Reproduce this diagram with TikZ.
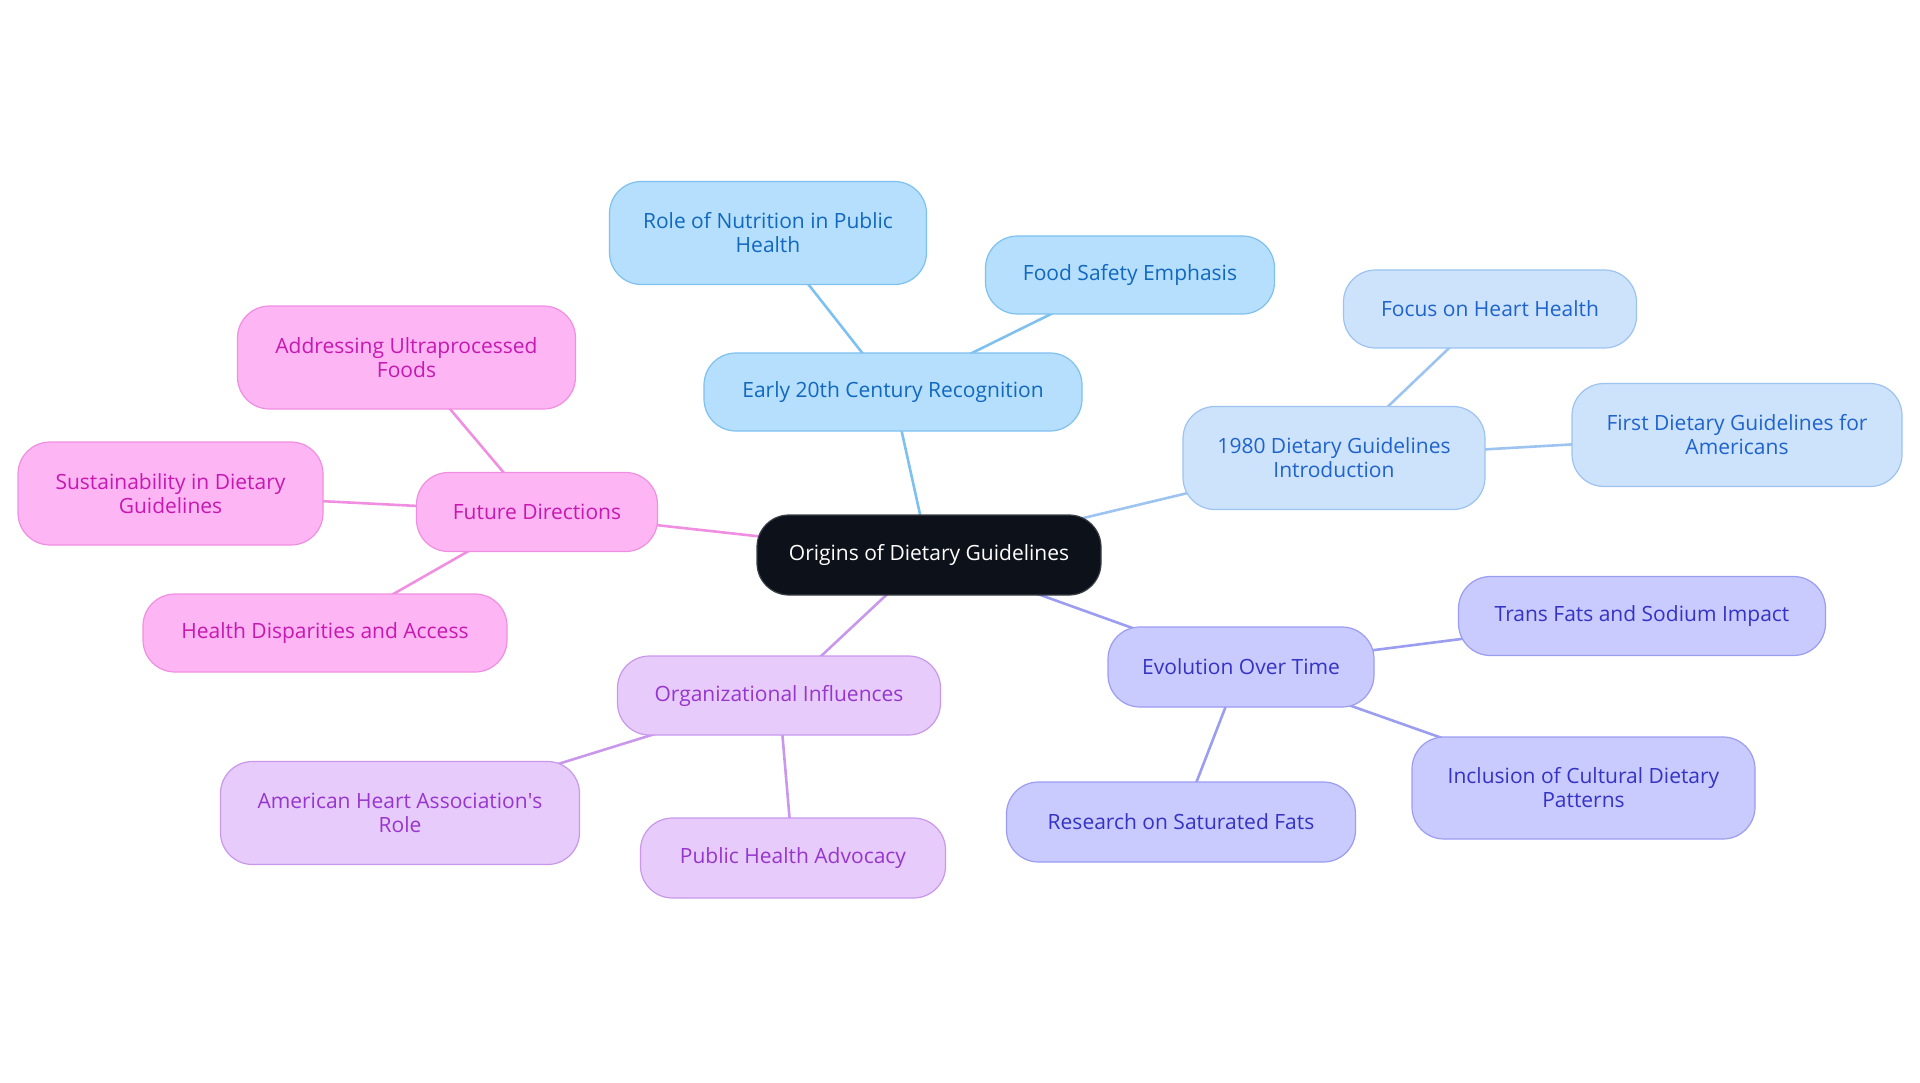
\documentclass[tikz,border=0pt]{standalone}
\usepackage{fontspec}
\setmainfont{Open Sans}
\usetikzlibrary{backgrounds}
\definecolor{cfill}{HTML}{0D121A}\definecolor{cdraw}{HTML}{3A3F47}
\definecolor{afill}{HTML}{B5DFFC}\definecolor{adraw}{HTML}{7EC1F0}\definecolor{atext}{HTML}{1168BE}
\definecolor{bfill}{HTML}{CDE3FB}\definecolor{bdraw}{HTML}{9DC3F1}\definecolor{btext}{HTML}{1F63CC}
\definecolor{efill}{HTML}{C9CAFD}\definecolor{edraw}{HTML}{9B9DF1}\definecolor{etext}{HTML}{3533C4}
\definecolor{ofill}{HTML}{E7CBFB}\definecolor{odraw}{HTML}{C998EC}\definecolor{otext}{HTML}{9736CD}
\definecolor{ffill}{HTML}{FDB5F3}\definecolor{fdraw}{HTML}{F08FE1}\definecolor{ftext}{HTML}{C718B1}
\tikzset{
  box/.style={rounded corners=32pt, line width=1.2pt, align=center, inner sep=0pt,
    font=\fontsize{21}{24}\selectfont},
  bx/.style 2 args={box, minimum width=#1pt, minimum height=#2pt},
  abox/.style={fill=afill, draw=adraw, text=atext},
  bbox/.style={fill=bfill, draw=bdraw, text=btext},
  ebox/.style={fill=efill, draw=edraw, text=etext},
  obox/.style={fill=ofill, draw=odraw, text=otext},
  fbox/.style={fill=ffill, draw=fdraw, text=ftext},
  link/.style={line width=2.6pt},
}
\begin{document}
\begin{tikzpicture}[x=1pt,y=-1pt]
\useasboundingbox (0,0) rectangle (1920,1083);
\node[bx={344}{80}, fill=cfill, draw=cdraw, text=white] (c) at (929,555) {Origins of Dietary Guidelines};
\node[bx={378}{78}, abox] (early) at (893,392) {Early 20th Century Recognition};
\node[bx={317}{103}, abox] (role) at (768,233) {Role of Nutrition in Public\\Health};
\node[bx={289}{78}, abox] (food) at (1130,275) {Food Safety Emphasis};
\node[bx={302}{103}, bbox] (g1980) at (1334,458) {1980 Dietary Guidelines\\Introduction};
\node[bx={293}{78}, bbox] (heart) at (1490,309) {Focus on Heart Health};
\node[bx={330}{103}, bbox] (first) at (1737,435) {First Dietary Guidelines for\\Americans};
\node[bx={266}{80}, ebox] (evo) at (1241,667) {Evolution Over Time};
\node[bx={367}{79}, ebox] (trans) at (1642,616) {Trans Fats and Sodium Impact};
\node[bx={343}{102}, ebox] (incl) at (1583.5,788) {Inclusion of Cultural Dietary\\Patterns};
\node[bx={349}{80}, ebox] (res) at (1181,822) {Research on Saturated Fats};
\node[bx={323}{79}, obox] (org) at (779,695.5) {Organizational Influences};
\node[bx={359}{103}, obox] (aha) at (400,813) {American Heart Association\textquotesingle s\\Role};
\node[bx={305}{80}, obox] (pha) at (793,858) {Public Health Advocacy};
\node[bx={241}{79}, fbox] (fut) at (537,512) {Future Directions};
\node[bx={338}{103}, fbox] (ultra) at (406.5,357.5) {Addressing Ultraprocessed\\Foods};
\node[bx={305}{103}, fbox] (sust) at (170.5,493.5) {Sustainability in Dietary\\Guidelines};
\node[bx={364}{78}, fbox] (disp) at (325,633) {Health Disparities and Access};
\begin{scope}[on background layer]
\draw[link, draw=adraw] (c.center) -- (early.center);
\draw[link, draw=adraw] (early.center) -- (role.center);
\draw[link, draw=adraw] (early.center) -- (food.center);
\draw[link, draw=bdraw] (c.center) -- (g1980.center);
\draw[link, draw=bdraw] (g1980.center) -- (heart.center);
\draw[link, draw=bdraw] (g1980.center) -- (first.center);
\draw[link, draw=edraw] (c.center) -- (evo.center);
\draw[link, draw=edraw] (evo.center) -- (trans.center);
\draw[link, draw=edraw] (evo.center) -- (incl.center);
\draw[link, draw=edraw] (evo.center) -- (res.center);
\draw[link, draw=odraw] (c.center) -- (org.center);
\draw[link, draw=odraw] (org.center) -- (aha.center);
\draw[link, draw=odraw] (org.center) -- (pha.center);
\draw[link, draw=fdraw] (c.center) -- (fut.center);
\draw[link, draw=fdraw] (fut.center) -- (ultra.center);
\draw[link, draw=fdraw] (fut.center) -- (sust.center);
\draw[link, draw=fdraw] (fut.center) -- (disp.center);
\end{scope}
\end{tikzpicture}
\end{document}
